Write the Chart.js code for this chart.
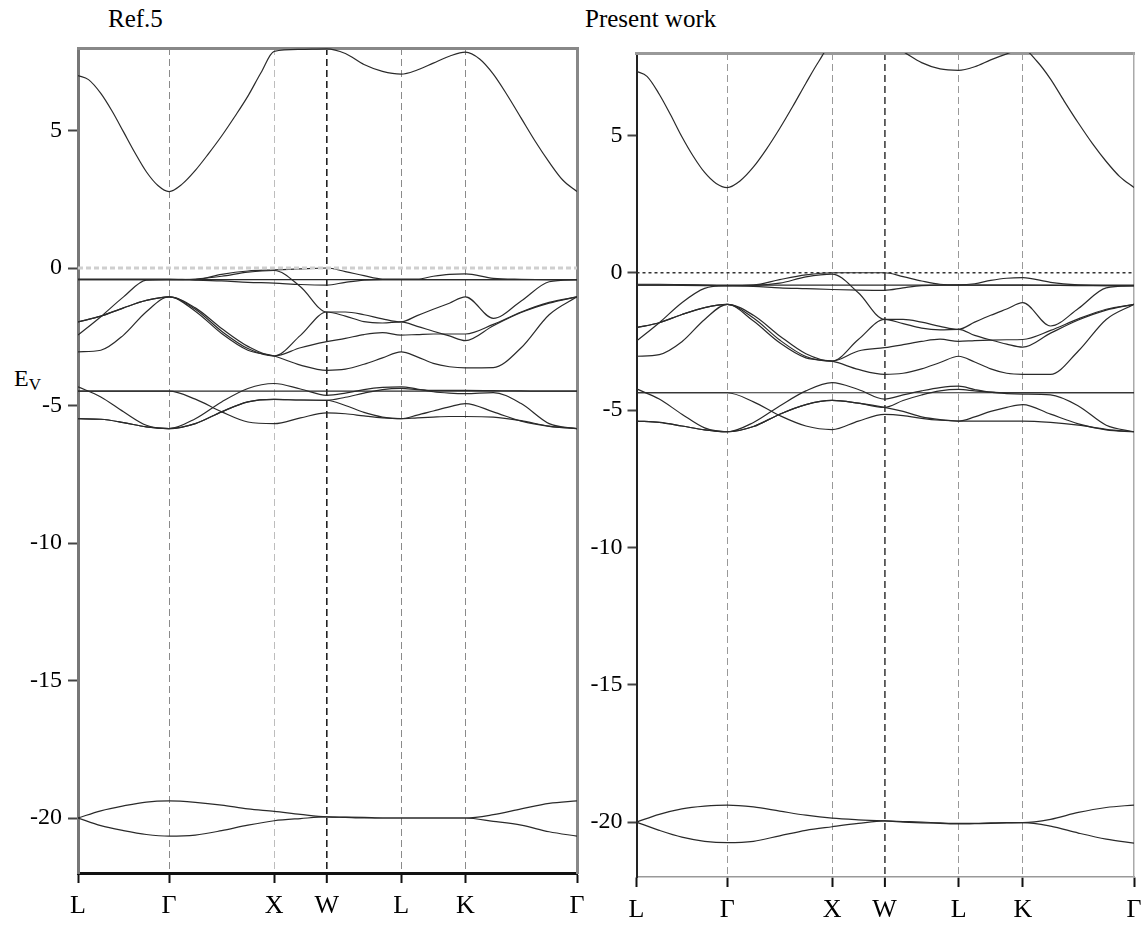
<!DOCTYPE html>
<html>
<head>
<meta charset="utf-8">
<script src="https://cdn.jsdelivr.net/npm/chart.js@4.4.1/dist/chart.umd.min.js"></script>
<style>
  body { margin: 0; background: #fff; width: 1144px; height: 931px; position: relative; overflow: hidden; }
  .panel { position: absolute; top: 0; height: 931px; }
  .txt { position: absolute; line-height: 1; color: #000; white-space: nowrap;
         font-family: 'Liberation Serif', 'Times New Roman', serif; }
  .txt sub { font-size: 17px; vertical-align: -4px; }
</style>
</head>
<body>
<div class="txt" style="left:108px;top:6px;font-size:25px">Ref.5</div>
<div class="txt" style="left:585px;top:6px;font-size:25px">Present work</div>
<div class="txt" style="left:14px;top:366px;font-size:24px">E<sub>V</sub></div>
<div class="panel" style="left:0;width:586px"><canvas id="refChart"></canvas></div>
<div class="panel" style="left:586px;width:558px"><canvas id="pwChart"></canvas></div>

<script>
// k path L-Γ-X-W-L-K-Γ (fcc), sample points along it
const kGrid = [0, 0.217, 0.433, 0.65, 0.866, 1.116, 1.366, 1.616, 1.866, 2.116, 2.366,
  2.543, 2.72, 2.896, 3.073, 3.226, 3.379, 3.532, 3.685, 3.95, 4.215, 4.481, 4.746];
// denser sampling for the conduction band (large swings)
const condGrid = [0, 0.1, 0.217, 0.325, 0.433, 0.54, 0.65, 0.76, 0.866, 0.99, 1.116, 1.24, 1.366, 1.49,
  1.616, 1.74, 1.866, 2.116, 2.366, 2.543, 2.72, 2.896, 3.073, 3.226, 3.379, 3.532, 3.685, 3.82,
  3.95, 4.08, 4.215, 4.35, 4.481, 4.61, 4.746];
const kTicks = [0, 0.866, 1.866, 2.366, 3.073, 3.685, 4.746];
const kLabels = ['L', 'Γ', 'X', 'W', 'L', 'K', 'Γ'];
const eTicks = [5, 0, -5, -10, -15, -20];
const E_MIN = -22, E_MAX = 8;

// Ref.5 bands (eV)
const refCond = [7.0, 6.85, 6.35, 5.7, 4.95, 4.2, 3.5, 3.0, 2.78, 3.05, 3.55, 4.15, 4.8, 5.5, 6.25, 7.1, 7.88,
  7.95, 7.97, 7.8, 7.4, 7.15, 7.05, 7.2, 7.45, 7.7, 7.85, 7.6, 7.05, 6.3, 5.45, 4.6, 3.85, 3.2, 2.78];
const refV0 = [-0.42, -0.42, -0.42, -0.42, -0.42, -0.42, -0.42, -0.42, -0.42, -0.42, -0.42, -0.42, -0.42, -0.42, -0.42, -0.42, -0.42, -0.42, -0.42, -0.42, -0.42, -0.42, -0.42];
const refV1 = [-0.40, -0.40, -0.40, -0.40, -0.40, -0.42, -0.23, -0.11, -0.07, -0.03, 0.0, -0.13, -0.28, -0.40, -0.40, -0.40, -0.30, -0.23, -0.21, -0.38, -0.41, -0.42, -0.42];
const refV2 = [-0.42, -0.42, -0.42, -0.42, -0.42, -0.44, -0.47, -0.52, -0.55, -0.60, -0.62, -0.52, -0.44, -0.42, -0.42, -0.42, -0.42, -0.42, -0.42, -0.42, -0.42, -0.42, -0.42];
const refV3 = [-2.44, -1.77, -1.05, -0.44, -0.42, -0.40, -0.30, -0.15, -0.09, -0.68, -1.6, -1.6, -1.7, -1.85, -1.96, -1.73, -1.5, -1.28, -1.05, -1.83, -1.2, -0.5, -0.42];
const refV4 = [-1.96, -1.75, -1.45, -1.18, -1.05, -1.45, -2.2, -2.85, -3.2, -2.9, -2.68, -2.56, -2.42, -2.35, -2.44, -2.42, -2.4, -2.4, -2.4, -2.05, -1.6, -1.25, -1.05];
const refV5 = [-3.05, -2.99, -2.44, -1.59, -1.05, -1.57, -2.38, -2.99, -3.2, -3.53, -3.72, -3.68, -3.5, -3.27, -3.05, -3.23, -3.47, -3.59, -3.63, -3.62, -2.9, -1.7, -1.05];
const refV6 = [-1.96, -1.75, -1.45, -1.18, -1.05, -1.5, -2.3, -2.93, -3.2, -2.45, -1.6, -1.75, -1.95, -2.0, -1.96, -2.12, -2.3, -2.47, -2.64, -2.1, -1.62, -1.28, -1.05];
const refD0 = [-4.48, -4.48, -4.48, -4.48, -4.48, -4.48, -4.48, -4.48, -4.48, -4.48, -4.48, -4.48, -4.48, -4.48, -4.48, -4.48, -4.48, -4.48, -4.48, -4.48, -4.48, -4.48, -4.48];
const refD1 = [-4.32, -4.69, -5.23, -5.72, -5.84, -5.48, -4.87, -4.38, -4.2, -4.4, -4.63, -4.55, -4.42, -4.34, -4.32, -4.4, -4.5, -4.55, -4.57, -4.53, -4.93, -5.66, -5.84];
const refD2 = [-4.48, -4.48, -4.48, -4.48, -4.48, -4.77, -5.23, -5.6, -5.66, -5.45, -5.27, -5.3, -5.38, -5.45, -5.48, -5.35, -5.2, -5.05, -4.93, -5.23, -5.57, -5.76, -5.84];
const refD3 = [-5.48, -5.5, -5.62, -5.78, -5.84, -5.66, -5.23, -4.87, -4.78, -4.8, -4.81, -4.7, -4.55, -4.42, -4.38, -4.42, -4.45, -4.45, -4.45, -4.46, -4.47, -4.48, -4.48];
const refD4 = [-5.48, -5.5, -5.62, -5.78, -5.84, -5.66, -5.23, -4.87, -4.78, -4.8, -4.81, -5.0, -5.25, -5.42, -5.48, -5.45, -5.42, -5.4, -5.4, -5.42, -5.55, -5.75, -5.84];
const refS1 = [-20.0, -19.74, -19.56, -19.42, -19.38, -19.43, -19.53, -19.67, -19.76, -19.87, -19.96, -19.97, -19.98, -20.0, -20.0, -20.0, -20.0, -20.0, -20.0, -19.88, -19.67, -19.47, -19.38];
const refS2 = [-20.0, -20.28, -20.46, -20.6, -20.66, -20.62, -20.46, -20.26, -20.1, -20.02, -19.96, -19.98, -20.0, -20.0, -20.0, -20.0, -20.0, -20.0, -20.0, -20.12, -20.26, -20.5, -20.66];

// Present work bands (eV)
const pwCond = [7.33, 7.15, 6.5, 5.75, 4.95, 4.25, 3.65, 3.25, 3.1, 3.35, 3.85, 4.5, 5.25, 6.05, 6.9, 7.7, 8.35,
  8.45, 8.4, 8.05, 7.65, 7.42, 7.37, 7.5, 7.75, 7.97, 8.15, 7.7, 7.05, 6.25, 5.45, 4.7, 4.05, 3.5, 3.1];
const pwV0 = [-0.45, -0.45, -0.45, -0.45, -0.45, -0.45, -0.45, -0.45, -0.45, -0.45, -0.45, -0.45, -0.45, -0.45, -0.45, -0.45, -0.45, -0.45, -0.45, -0.45, -0.45, -0.45, -0.45];
const pwV1 = [-0.42, -0.42, -0.43, -0.45, -0.47, -0.45, -0.25, -0.08, 0.0, 0.0, 0.0, -0.14, -0.3, -0.42, -0.44, -0.4, -0.28, -0.2, -0.18, -0.35, -0.44, -0.47, -0.47];
const pwV2 = [-0.45, -0.45, -0.46, -0.47, -0.48, -0.5, -0.55, -0.58, -0.61, -0.63, -0.64, -0.55, -0.47, -0.45, -0.45, -0.45, -0.45, -0.45, -0.45, -0.46, -0.47, -0.47, -0.48];
const pwV3 = [-2.49, -1.82, -1.09, -0.57, -0.47, -0.46, -0.38, -0.15, -0.05, -0.73, -1.7, -1.7, -1.8, -1.95, -2.06, -1.8, -1.55, -1.32, -1.09, -1.94, -1.3, -0.55, -0.47];
const pwV4 = [-2.0, -1.82, -1.52, -1.27, -1.15, -1.55, -2.3, -2.95, -3.22, -2.85, -2.73, -2.62, -2.5, -2.42, -2.5, -2.47, -2.45, -2.44, -2.43, -2.1, -1.68, -1.33, -1.15];
const pwV5 = [-3.04, -2.98, -2.51, -1.7, -1.15, -1.76, -2.55, -3.1, -3.22, -3.52, -3.7, -3.66, -3.5, -3.27, -3.04, -3.25, -3.5, -3.66, -3.7, -3.7, -2.85, -1.7, -1.15];
const pwV6 = [-2.0, -1.82, -1.52, -1.27, -1.15, -1.65, -2.45, -3.05, -3.22, -2.43, -1.7, -1.85, -2.02, -2.08, -2.06, -2.28, -2.45, -2.6, -2.71, -2.2, -1.72, -1.36, -1.15];
const pwD0 = [-4.37, -4.37, -4.37, -4.37, -4.37, -4.37, -4.37, -4.37, -4.37, -4.37, -4.37, -4.37, -4.37, -4.37, -4.37, -4.37, -4.37, -4.37, -4.37, -4.37, -4.37, -4.37, -4.37];
const pwD1 = [-4.23, -4.6, -5.15, -5.65, -5.79, -5.45, -4.85, -4.3, -4.0, -4.25, -4.6, -4.45, -4.3, -4.18, -4.13, -4.25, -4.35, -4.4, -4.42, -4.45, -4.85, -5.55, -5.79];
const pwD2 = [-4.37, -4.37, -4.37, -4.37, -4.37, -4.7, -5.2, -5.58, -5.71, -5.4, -5.16, -5.2, -5.3, -5.37, -5.4, -5.25, -5.05, -4.9, -4.8, -5.15, -5.5, -5.72, -5.79];
const pwD3 = [-5.4, -5.45, -5.58, -5.72, -5.79, -5.6, -5.15, -4.8, -4.65, -4.75, -4.9, -4.65, -4.45, -4.3, -4.25, -4.3, -4.35, -4.37, -4.37, -4.37, -4.37, -4.37, -4.37];
const pwD4 = [-5.4, -5.45, -5.58, -5.72, -5.79, -5.6, -5.15, -4.8, -4.65, -4.75, -4.9, -5.05, -5.25, -5.35, -5.4, -5.4, -5.4, -5.4, -5.4, -5.45, -5.55, -5.7, -5.79];
const pwS1 = [-20.0, -19.72, -19.52, -19.42, -19.38, -19.45, -19.6, -19.75, -19.86, -19.92, -19.96, -19.98, -20.0, -20.03, -20.05, -20.05, -20.03, -20.02, -20.02, -19.9, -19.65, -19.47, -19.38];
const pwS2 = [-20.0, -20.3, -20.55, -20.7, -20.75, -20.7, -20.5, -20.3, -20.17, -20.05, -19.96, -20.0, -20.03, -20.05, -20.07, -20.06, -20.05, -20.03, -20.02, -20.15, -20.4, -20.62, -20.77];

const refBands = [refV0, refV1, refV2, refV3, refV4, refV5, refV6, refD0, refD1, refD2, refD3, refD4, refS1, refS2];
const pwBands = [pwV0, pwV1, pwV2, pwV3, pwV4, pwV5, pwV6, pwD0, pwD1, pwD2, pwD3, pwD4, pwS1, pwS2];

Chart.defaults.font.family = "'Liberation Serif', 'Times New Roman', serif";
Chart.defaults.color = '#000';

const kMax = kTicks[kTicks.length - 1];

function fixSize(prop, size) {
  return scale => {
    scale[prop] = size;
    scale.paddingLeft = scale.paddingRight = scale.paddingTop = scale.paddingBottom = 0;
  };
}

function bandSet(grid, values) {
  return {
    data: grid.map((k, i) => ({ x: k, y: values[i] })),
    borderColor: '#2a2a2a',
    borderWidth: 1.2,
    pointRadius: 0,
    cubicInterpolationMode: 'monotone',
    fill: false,
    clip: 0
  };
}

function buildPanel(id, cond, bands, s) {
  const fermi = {
    data: [{ x: 0, y: 0 }, { x: kMax, y: 0 }],
    borderColor: s.fermiColor,
    borderWidth: s.fermiWidth,
    borderDash: s.fermiDash,
    pointRadius: 0,
    clip: 0
  };
  const datasets = [fermi, bandSet(condGrid, cond), ...bands.map(b => bandSet(kGrid, b))];
  const last = kTicks.length - 1;

  return new Chart(document.getElementById(id), {
    type: 'line',
    data: { datasets },
    options: {
      responsive: true,
      maintainAspectRatio: false,
      animation: false,
      events: [],
      layout: { padding: { top: s.top, right: s.right, left: 0, bottom: 0 } },
      plugins: { legend: { display: false }, tooltip: { enabled: false } },
      scales: {
        x: {
          type: 'linear', min: 0, max: kMax,
          afterBuildTicks: axis => { axis.ticks = kTicks.map(v => ({ value: v })); },
          afterFit: fixSize('height', s.xHeight),
          grid: {
            color: ctx => (ctx.index === 0 || ctx.index === last) ? 'transparent' : s.vColors[ctx.index],
            lineWidth: ctx => s.vWidths[ctx.index] || 1,
            tickColor: '#111', tickWidth: 2, tickLength: 10
          },
          border: { color: s.bottomColor, width: s.bottomWidth, dash: [7, 4] },
          ticks: {
            autoSkip: false, maxRotation: 0, padding: 8,
            font: { size: 26 }, color: '#000',
            callback: (v, i) => kLabels[i]
          }
        },
        y: {
          type: 'linear', min: E_MIN, max: E_MAX,
          afterBuildTicks: axis => { axis.ticks = eTicks.map(v => ({ value: v })); },
          afterFit: fixSize('width', s.yWidth),
          grid: { drawOnChartArea: false, color: '#444', tickWidth: 2, tickLength: s.yTick },
          border: { color: s.leftColor, width: s.leftWidth },
          ticks: { padding: s.yPad, font: { size: 24 }, color: '#000', callback: v => String(v) }
        },
        x2: {
          type: 'linear', position: 'top', min: 0, max: kMax,
          afterFit: fixSize('height', 0),
          grid: { display: false }, ticks: { display: false },
          border: { color: s.topColor, width: s.topWidth }
        },
        y2: {
          type: 'linear', position: 'right', min: E_MIN, max: E_MAX,
          afterFit: fixSize('width', 0),
          grid: { display: false }, ticks: { display: false },
          border: { color: s.rightColor, width: s.rightWidth }
        }
      }
    }
  });
}

buildPanel('refChart', refCond, refBands, {
  top: 48, right: 9, xHeight: 58, yWidth: 78, yTick: 10, yPad: 6,
  vColors: ['', '#8a8a8a', '#bdbdbd', '#222', '#8a8a8a', '#8a8a8a', ''],
  vWidths: [1, 1, 1, 1.6, 1, 1, 1],
  fermiColor: '#cfcfcf', fermiWidth: 3, fermiDash: [5, 3],
  leftColor: '#777', leftWidth: 3, topColor: '#888', topWidth: 3,
  rightColor: '#888', rightWidth: 3, bottomColor: '#111', bottomWidth: 3
});

buildPanel('pwChart', pwCond, pwBands, {
  top: 53, right: 10, xHeight: 54, yWidth: 50.5, yTick: 9, yPad: 5,
  vColors: ['', '#999', '#999', '#555', '#999', '#999', ''],
  vWidths: [1, 1, 1, 1.8, 1, 1, 1],
  fermiColor: '#333', fermiWidth: 1.5, fermiDash: [3, 3],
  leftColor: '#222', leftWidth: 2, topColor: '#999', topWidth: 3,
  rightColor: '#aaa', rightWidth: 1.5, bottomColor: '#999', bottomWidth: 1.5
});
</script>
</body>
</html>
